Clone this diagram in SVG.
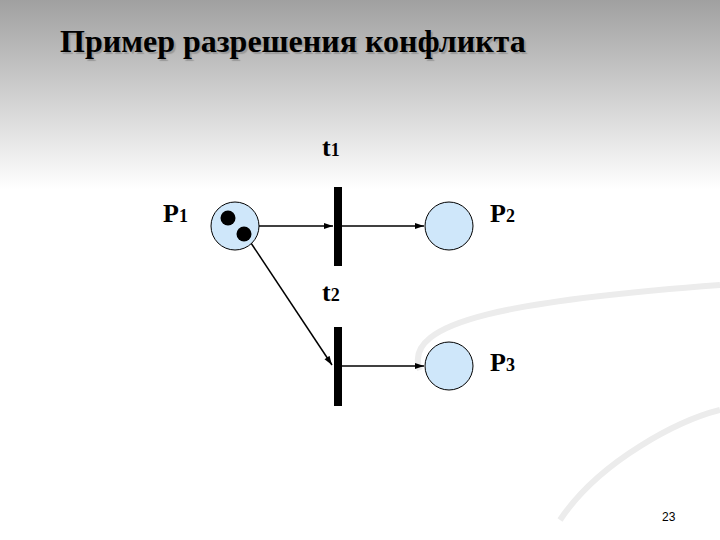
<svg xmlns="http://www.w3.org/2000/svg" width="720" height="540" viewBox="0 0 720 540">
<defs>
<linearGradient id="bg" x1="0" y1="0" x2="0" y2="1">
<stop offset="0" stop-color="#a0a0a0"/><stop offset="0.35" stop-color="#ffffff"/><stop offset="1" stop-color="#ffffff"/>
</linearGradient>
<marker id="ah" markerWidth="10" markerHeight="8" refX="9" refY="4" orient="auto" markerUnits="userSpaceOnUse">
<path d="M0,1 L9,4 L0,7 z" fill="#000"/>
</marker>
<style>
.pl{fill:#cfe7fa;stroke:#000;stroke-width:1}
.lb{font-family:'Liberation Serif','DejaVu Serif',serif;font-weight:bold;font-size:26px}
.sb{font-size:18px}
.tt{font-family:'Liberation Serif','DejaVu Serif',serif;font-weight:bold;font-size:32px}
.ar{stroke:#000;stroke-width:1.5;fill:none;marker-end:url(#ah)}
</style>
</defs>
<rect width="720" height="540" fill="url(#bg)"/>
<g fill="none" stroke="#ececec" stroke-width="6">
<path d="M420 370 C400 320 520 300 720 285"/>
<path d="M560 520 C600 460 680 420 720 410"/>
</g>
<text class="tt" x="60" y="52" fill="#000" style="text-shadow:2px 2px 1px #999">Пример разрешения конфликта</text>
<g id="connectors">
<line class="ar" x1="259" y1="226" x2="333" y2="226"/>
<line class="ar" x1="342" y1="226" x2="424" y2="226"/>
<line class="ar" x1="251" y1="243" x2="332" y2="365"/>
<line class="ar" x1="342" y1="366" x2="424" y2="366"/>
</g>
<g id="P1"><circle class="pl" cx="235" cy="226" r="24"/><circle cx="228" cy="218" r="7.5"/><circle cx="244" cy="234" r="7.5"/>
<text class="lb" x="163" y="222">P<tspan class="sb">1</tspan></text></g>
<g id="t1"><rect x="334" y="187" width="8" height="79"/><text class="lb" x="322" y="156">t<tspan class="sb">1</tspan></text></g>
<g id="P2"><circle class="pl" cx="449" cy="226" r="24"/><text class="lb" x="490" y="222">P<tspan class="sb">2</tspan></text></g>
<g id="t2"><rect x="334" y="327" width="8" height="79"/><text class="lb" x="322" y="301">t<tspan class="sb">2</tspan></text></g>
<g id="P3"><circle class="pl" cx="449" cy="366" r="24"/><text class="lb" x="490" y="371">P<tspan class="sb">3</tspan></text></g>
<text x="662" y="521" font-family="'Liberation Sans',sans-serif" font-size="12">23</text>
</svg>
